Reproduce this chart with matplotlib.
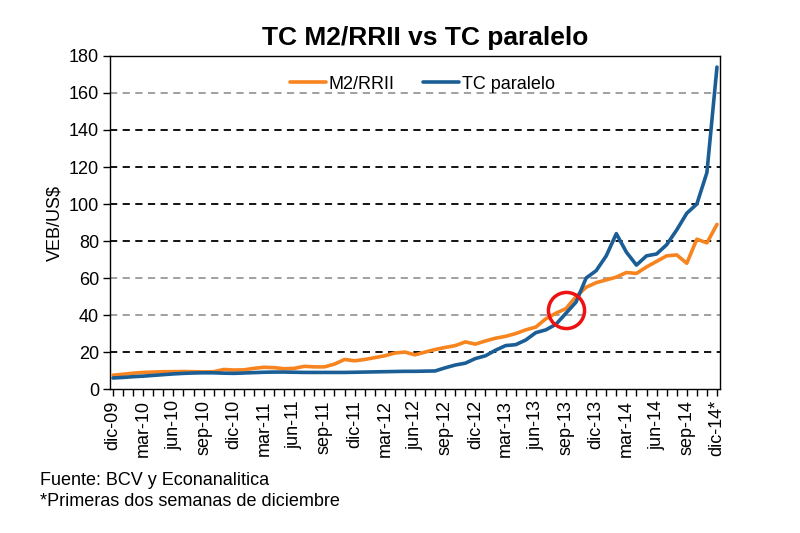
import matplotlib
matplotlib.use("Agg")
import matplotlib.pyplot as plt
import numpy as np

plt.rcParams['font.family'] = ['Liberation Sans', 'DejaVu Sans']

tick_labels = ['dic-09', 'mar-10', 'jun-10', 'sep-10', 'dic-10', 'mar-11', 'jun-11', 'sep-11',
               'dic-11', 'mar-12', 'jun-12', 'sep-12', 'dic-12', 'mar-13', 'jun-13', 'sep-13',
               'dic-13', 'mar-14', 'jun-14', 'sep-14', 'dic-14*']

m2_rrii = [7.5, 8.0, 8.6, 9.0, 9.2, 9.4, 9.4, 9.5, 9.4, 9.3,
           9.4, 10.6, 10.3, 10.4, 11.2, 11.8, 11.6, 11.0, 11.2, 12.3,
           12.0, 12.0, 13.5, 16.0, 15.3, 16.0, 17.0, 18.0, 19.5, 20.0,
           18.5, 20.0, 21.4, 22.5, 23.5, 25.5, 24.3, 26.0, 27.5, 28.5,
           30.0, 32.0, 33.5, 38.0, 41.0, 43.5, 50.0, 55.0, 57.5, 59.0,
           60.5, 63.0, 62.5, 66.0, 69.0, 72.0, 72.5, 68.0, 81.0, 79.0,
           89.0]
tc_paralelo = [6.0, 6.3, 6.7, 7.0, 7.4, 7.8, 8.2, 8.5, 8.7, 8.8,
               8.8, 8.6, 8.5, 8.7, 8.9, 9.1, 9.2, 9.2, 9.1, 9.0,
               9.0, 9.0, 9.0, 9.0, 9.1, 9.2, 9.3, 9.4, 9.5, 9.6,
               9.6, 9.7, 9.8, 11.5, 13.0, 14.0, 16.5, 18.0, 21.0, 23.5,
               24.0, 26.5, 30.5, 32.0, 35.0, 41.0, 47.0, 60.0, 64.0, 72.0,
               84.0, 74.0, 67.0, 72.0, 73.0, 78.0, 86.0, 95.0, 100.0, 117.0,
               174.0]
cross_idx = 45
cross_val = 43

x = np.arange(len(m2_rrii))

fig = plt.figure(figsize=(8, 5.33), dpi=100)
ax = fig.add_axes([0.1375, 0.27, 0.7625, 0.625])

grid_colors = {20: '#000000', 40: '#999999', 60: '#999999', 80: '#000000',
               100: '#000000', 120: '#000000', 140: '#000000', 160: '#999999'}
for yv, c in grid_colors.items():
    ax.axhline(yv, color=c, lw=1.3, ls=(0, (4, 3)), zorder=1)

ax.plot(x, m2_rrii, color='#F7841F', lw=2.6, label='M2/RRII', zorder=3, solid_capstyle='round')
ax.plot(x, tc_paralelo, color='#1B5E95', lw=2.6, label='TC paralelo', zorder=4, solid_capstyle='round')
ax.plot([cross_idx], [cross_val], 'o', ms=26, mfc='none', mec='#EE1111', mew=2.5, zorder=5)

ax.set_xlim(-0.3, 60.3)
ax.set_ylim(0, 180)
ax.set_yticks(range(0, 181, 20))
ax.set_xticks(np.arange(0, 61, 3))
ax.set_xticklabels(tick_labels, rotation=90, fontsize=13)
ax.set_xticks(np.arange(0, 61, 1), minor=True)
ax.tick_params(axis='x', which='both', direction='out', length=5, width=1, pad=3)
ax.tick_params(axis='y', direction='out', length=5, width=1, labelsize=13, pad=3)
for s in ax.spines.values():
    s.set_color('black')
    s.set_linewidth(1)
ax.set_ylabel('VEB/US$', fontsize=13, labelpad=4)

ax.legend(loc='upper center', bbox_to_anchor=(0.512, 0.99), ncol=2, frameon=False,
          fontsize=13, handlelength=2.0, columnspacing=1.6, handletextpad=0.15)

fig.text(0.531, 0.928, 'TC M2/RRII vs TC paralelo', ha='center', va='center',
         fontsize=19, fontweight='bold')
fig.text(0.05, 0.099, 'Fuente: BCV y Econanalitica', fontsize=13, va='center')
fig.text(0.05, 0.06, '*Primeras dos semanas de diciembre', fontsize=13, va='center')

fig.savefig('out.png', dpi=100)
